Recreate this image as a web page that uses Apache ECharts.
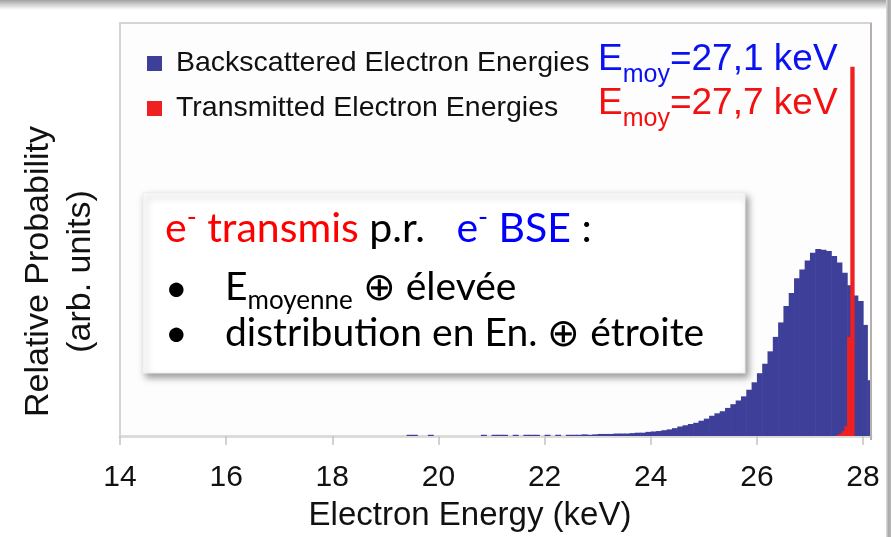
<!DOCTYPE html>
<html><head><meta charset="utf-8">
<script src="https://cdn.jsdelivr.net/npm/echarts@6/dist/echarts.min.js"></script>
<style>html,body{margin:0;padding:0;background:#fff;}#c{width:891px;height:537px;}</style>
</head><body><div id="c"></div>
<script>
// ---- data ----
const seriesNames = ['Backscattered Electron Energies', 'Transmitted Electron Energies'];
const xTickLabels = [14, 16, 18, 20, 22, 24, 26, 28];
const bseEdges = [19.4,19.5,19.6,19.7,19.8,19.9,20.0,20.1,20.2,20.3,20.4,20.5,20.6,20.7,20.8,20.9,21.0,21.1,21.2,21.3,
  21.4,21.5,21.6,21.7,21.8,21.9,22.0,22.1,22.2,22.3,22.4,22.5,22.6,22.7,22.8,22.9,23.0,23.1,23.2,23.3,
  23.4,23.5,23.6,23.7,23.8,23.9,24.0,24.1,24.2,24.3,24.4,24.5,24.6,24.7,24.8,24.9,25.0,25.1,25.2,25.3,
  25.4,25.5,25.6,25.7,25.8,25.9,26.0,26.1,26.2,26.3,26.4,26.5,26.6,26.7,26.8,26.9,27.0,27.1,27.2,27.3,
  27.4,27.5,27.6,27.7,27.8,27.9,28.0,28.08,28.14];
const bseValues = [0.3,0.3,0,0,0.3,0,0,0,0,0,
  0,0,0,0,0.3,0,0.3,0.3,0.3,0,
  0.3,0,0.3,0.3,0.3,0,0.3,0,0.3,0,
  0.3,0.3,0.3,0.4,0.3,0.4,0.5,0.5,0.5,0.6,
  0.6,0.6,0.7,0.8,0.8,1.0,1.1,1.2,1.4,1.6,
  1.9,2.3,2.6,2.9,3.2,3.7,4.2,4.9,5.5,6.0,
  6.8,7.7,8.6,9.6,11.2,13.0,15.2,17.5,20.5,24.0,
  27.5,31.5,34.6,38.2,40.3,42.5,44.4,45.3,45.1,44.8,
  43.6,42.0,39.5,36.5,34.0,32.7,
  26.9,13.5];
const transEdges = [27.50,27.55,27.60,27.65,27.70,27.76,27.83];
const transValues = [0.3,0.6,1.2,2.4,24,89.4];

// ---- build ----
function bins(edges, vals) {
  const out = [];
  for (let i = 0; i < vals.length; i++) out.push([edges[i], edges[i + 1], vals[i]]);
  return out;
}
function histItem(color) {
  return function (params, api) {
    const p0 = api.coord([api.value(0), api.value(2)]);
    const p1 = api.coord([api.value(1), 0]);
    return { type: 'rect', shape: { x: p0[0], y: p0[1], width: p1[0] - p0[0] + 0.6, height: p1[1] - p0[1] },
      style: { fill: color } };
  };
}
const BLUE = '#3d3f98', RED = '#ee2020';
const AR = '"Liberation Sans", Arial, sans-serif';
const CAL = 'Lato, "Open Sans", sans-serif';

const chart = echarts.init(document.getElementById('c'), null, { renderer: 'canvas' });
chart.setOption({
  animation: false,
  backgroundColor: '#ffffff',
  grid: { left: 120, right: 20, top: 23, bottom: 98, show: true, borderColor: '#d9d2d2', borderWidth: 2, backgroundColor: '#fdfdfe' },
  legend: {
    orient: 'vertical', left: 142, top: 44, itemWidth: 15, itemHeight: 15, itemGap: 16, icon: 'rect',
    data: seriesNames,
    textStyle: { fontSize: 28.5, fontFamily: AR, color: '#111111', padding: [0, 0, 0, 9] }
  },
  xAxis: {
    type: 'value', min: 14, max: 28.15, interval: 2,
    name: 'Electron Energy (keV)', nameLocation: 'middle', nameGap: 63,
    nameTextStyle: { fontSize: 33, fontFamily: AR, color: '#111111', padding: [0, 51, 0, 0] },
    axisLine: { show: true, lineStyle: { color: '#dcdada', width: 3 } },
    axisTick: { show: true, length: 9, lineStyle: { color: '#c9c2c2', width: 1.5 } },
    splitLine: { show: false },
    axisLabel: { fontSize: 30, fontFamily: AR, color: '#111111', margin: 27, showMaxLabel: false,
      formatter: v => (xTickLabels.indexOf(v) >= 0 ? String(v) : '') }
  },
  yAxis: {
    type: 'value', min: 0, max: 100,
    name: 'Relative Probability\n(arb. units)', nameLocation: 'middle', nameRotate: 90, nameGap: 18,
    nameTextStyle: { fontSize: 34, lineHeight: 42, fontFamily: AR, color: '#111111', padding: [0, 84, 0, 0] },
    axisLine: { show: false }, axisTick: { show: false }, axisLabel: { show: false }, splitLine: { show: false }
  },
  series: [
    { name: seriesNames[0], type: 'custom', renderItem: histItem(BLUE), itemStyle: { color: BLUE },
      encode: { x: [0, 1], y: 2 }, data: bins(bseEdges, bseValues), z: 2 },
    { name: seriesNames[1], type: 'custom', renderItem: histItem(RED), itemStyle: { color: RED },
      encode: { x: [0, 1], y: 2 }, data: bins(transEdges, transValues), z: 3 }
  ],
  graphic: [
    { type: 'rect', left: 0, top: 0, shape: { width: 886, height: 10 }, z: 0,
      style: { fill: new echarts.graphic.LinearGradient(0, 0, 0, 1, [{ offset: 0, color: '#a2a2a2' }, { offset: 0.55, color: '#d8d8d8' }, { offset: 1, color: '#ffffff' }]) } },
    { type: 'rect', left: 886, top: 0, shape: { width: 5, height: 537 }, z: 0,
      style: { fill: new echarts.graphic.LinearGradient(0, 0, 1, 0, [{ offset: 0, color: '#e2e2e2' }, { offset: 0.5, color: '#ababab' }, { offset: 1, color: '#b8b8b8' }]) } },
    { type: 'line', shape: { x1: 871, y1: 23, x2: 871, y2: 440 }, z: 5, style: { stroke: '#b7aeae', lineWidth: 2 } },
    { type: 'text', x: 598, y: 41, z: 20, style: {
        text: '{e|E}{s|moy}{e|=27,1 keV}', verticalAlign: 'top', align: 'left', fill: '#0b12f2',
        fontFamily: AR, fontSize: 37,
        rich: { e: { fill: '#0b12f2', fontFamily: AR, fontSize: 37, lineHeight: 47, verticalAlign: 'top' },
                s: { fill: '#0b12f2', fontFamily: AR, fontSize: 25, verticalAlign: 'bottom' } } } },
    { type: 'text', x: 598, y: 85, z: 20, style: {
        text: '{e|E}{s|moy}{e|=27,7 keV}', verticalAlign: 'top', align: 'left', fill: '#f21010',
        fontFamily: AR, fontSize: 37,
        rich: { e: { fill: '#f21010', fontFamily: AR, fontSize: 37, lineHeight: 47, verticalAlign: 'top' },
                s: { fill: '#f21010', fontFamily: AR, fontSize: 25, verticalAlign: 'bottom' } } } },
    { type: 'rect', shape: { x: 143, y: 193, width: 602, height: 180 }, z: 30,
      style: { fill: '#ffffff', stroke: '#eeeeee', lineWidth: 1, shadowBlur: 7, shadowOffsetX: 3, shadowOffsetY: 4, shadowColor: 'rgba(0,0,0,0.4)' } },
    { type: 'text', x: 165, y: 204, z: 31, style: {
        text: '{r|e}{rs|-}{r| transmis} {k|p.r.}   {b|e}{bs|-}{b| BSE} {k|:}', verticalAlign: 'top', align: 'left',
        fontFamily: CAL, fontSize: 41, fill: '#000',
        rich: { r: { fill: '#ff0000', fontFamily: CAL, fontSize: 41, lineHeight: 45, verticalAlign: 'bottom' },
                rs: { fill: '#ff0000', fontFamily: CAL, fontSize: 27, verticalAlign: 'top' },
                k: { fill: '#000000', fontFamily: CAL, fontSize: 41, lineHeight: 45, verticalAlign: 'bottom' },
                b: { fill: '#0000ff', fontFamily: CAL, fontSize: 41, lineHeight: 45, verticalAlign: 'bottom' },
                bs: { fill: '#0000ff', fontFamily: CAL, fontSize: 27, verticalAlign: 'top' } } } },
    { type: 'text', x: 165, y: 288, z: 31, style: { text: '•', fontFamily: CAL, fontSize: 39, fill: '#000', verticalAlign: 'middle', align: 'left' } },
    { type: 'text', x: 225, y: 268, z: 31, style: {
        text: '{m|E}{s|moyenne}{m| ⊕ élevée}', verticalAlign: 'top', align: 'left', fontFamily: CAL, fontSize: 39, fill: '#000',
        rich: { m: { fill: '#000', fontFamily: CAL, fontSize: 39, lineHeight: 46, verticalAlign: 'top' },
                s: { fill: '#000', fontFamily: CAL, fontSize: 26, verticalAlign: 'bottom' } } } },
    { type: 'text', x: 165, y: 333, z: 31, style: { text: '•', fontFamily: CAL, fontSize: 39, fill: '#000', verticalAlign: 'middle', align: 'left' } },
    { type: 'text', x: 225, y: 333, z: 31, style: { text: 'distribution en En. ⊕ étroite', fontFamily: CAL, fontSize: 39, fill: '#000', verticalAlign: 'middle', align: 'left' } }
  ]
});
</script></body></html>
